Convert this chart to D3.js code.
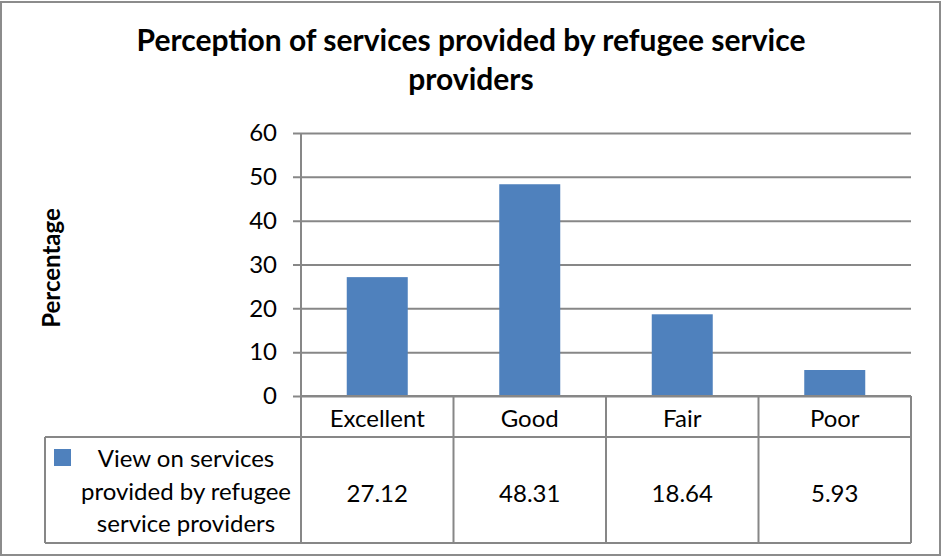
<!DOCTYPE html>
<html>
<head>
<meta charset="utf-8">
<script src="https://cdn.jsdelivr.net/npm/d3@7"></script>
<style>
  html, body { margin: 0; padding: 0; background: #fff; }
  svg { display: block; font-family: Lato, "Open Sans", sans-serif; }
</style>
</head>
<body>
<svg id="chart" width="942" height="558"></svg>
<script>
// Survey results: perception of services from refugee service providers
const categories = ["Excellent", "Good", "Fair", "Poor"];
const values = [27.12, 48.31, 18.64, 5.93];
const seriesName = ["View on services", "provided by refugee", "service providers"];
const yTicks = [0, 10, 20, 30, 40, 50, 60];
const titleLines = ["Perception of services provided by refugee service", "providers"];
const yLabel = "Percentage";

const svg = d3.select("#chart");
const W = 942, H = 558;

const plot = { left: 301, right: 911, top: 133, bottom: 396 };
const table = { left: 45, rowTop: 396, rowMid: 437, bottom: 543 };

const gridColor = "#878787";
const barColor = "#4F81BD";
const bodySize = 24;

// outer frame
svg.append("rect")
  .attr("x", 1).attr("y", 2).attr("width", W - 3).attr("height", H - 5)
  .attr("fill", "#fff").attr("stroke", "#8c8c8c").attr("stroke-width", 2);

// title
svg.append("g").selectAll("text").data(titleLines).join("text")
  .attr("x", 471).attr("y", (d, i) => 51 + i * 39)
  .attr("text-anchor", "middle")
  .attr("font-size", 30).attr("font-weight", "bold").attr("fill", "#000")
  .text(d => d);

// scales
const y = d3.scaleLinear().domain([0, 60]).range([plot.bottom, plot.top]);
const xCell = d3.scaleBand().domain(categories).range([plot.left, plot.right]).padding(0);
const xBar = d3.scaleBand().domain(categories).range([plot.left, plot.right])
  .paddingInner(0.6).paddingOuter(0.3);

// gridlines with tick marks on the left
const yAxis = d3.axisLeft(y).tickValues(yTicks)
  .tickSize(-(plot.right - plot.left)).tickPadding(10).tickSizeOuter(0);
const gy = svg.append("g").attr("transform", `translate(${plot.left},0)`).call(yAxis);
gy.select(".domain").remove();
gy.selectAll(".tick line")
  .attr("x1", -8)
  .attr("stroke", gridColor).attr("stroke-width", 2);
gy.selectAll(".tick text")
  .attr("font-size", bodySize).attr("font-family", "Lato, sans-serif").attr("fill", "#000")
  .attr("x", -24);

// bars
svg.append("g").selectAll("rect").data(categories).join("rect")
  .attr("x", d => xBar(d))
  .attr("width", xBar.bandwidth())
  .attr("y", (d, i) => y(values[i]))
  .attr("height", (d, i) => y(0) - y(values[i]))
  .attr("fill", barColor);

// vertical axis line continuing through the data table
svg.append("line")
  .attr("x1", plot.left).attr("x2", plot.left)
  .attr("y1", plot.top).attr("y2", table.bottom)
  .attr("stroke", gridColor).attr("stroke-width", 2);

// data table grid
const tbl = svg.append("g").attr("stroke", gridColor).attr("stroke-width", 2);
tbl.append("line").attr("x1", plot.left).attr("x2", plot.right)
  .attr("y1", table.rowTop).attr("y2", table.rowTop);
tbl.append("line").attr("x1", table.left).attr("x2", plot.right)
  .attr("y1", table.rowMid).attr("y2", table.rowMid);
tbl.append("line").attr("x1", table.left).attr("x2", plot.right)
  .attr("y1", table.bottom).attr("y2", table.bottom);
tbl.append("line").attr("x1", table.left).attr("x2", table.left)
  .attr("y1", table.rowMid).attr("y2", table.bottom);
tbl.selectAll("line.col").data(categories).join("line").attr("class", "col")
  .attr("x1", d => xCell(d) + xCell.bandwidth())
  .attr("x2", d => xCell(d) + xCell.bandwidth())
  .attr("y1", table.rowTop).attr("y2", table.bottom);

// category labels
svg.append("g").selectAll("text").data(categories).join("text")
  .attr("x", d => xCell(d) + xCell.bandwidth() / 2)
  .attr("y", 427)
  .attr("text-anchor", "middle")
  .attr("font-size", bodySize).attr("fill", "#000")
  .text(d => d);

// values row
svg.append("g").selectAll("text").data(categories).join("text")
  .attr("x", d => xCell(d) + xCell.bandwidth() / 2)
  .attr("y", 502)
  .attr("text-anchor", "middle")
  .attr("font-size", bodySize).attr("fill", "#000")
  .text((d, i) => d3.format(".2f")(values[i]));

// legend key and series name
svg.append("rect")
  .attr("x", 54).attr("y", 449).attr("width", 17).attr("height", 17)
  .attr("fill", barColor);
svg.append("g").selectAll("text").data(seriesName).join("text")
  .attr("x", 186).attr("y", (d, i) => 467 + i * 32.7)
  .attr("text-anchor", "middle")
  .attr("font-size", bodySize).attr("fill", "#000")
  .text(d => d);

// y-axis title
svg.append("text")
  .attr("transform", `translate(60, 268) rotate(-90)`)
  .attr("text-anchor", "middle")
  .attr("font-size", 24).attr("font-weight", "bold").attr("fill", "#000")
  .text(yLabel);
</script>
</body>
</html>
